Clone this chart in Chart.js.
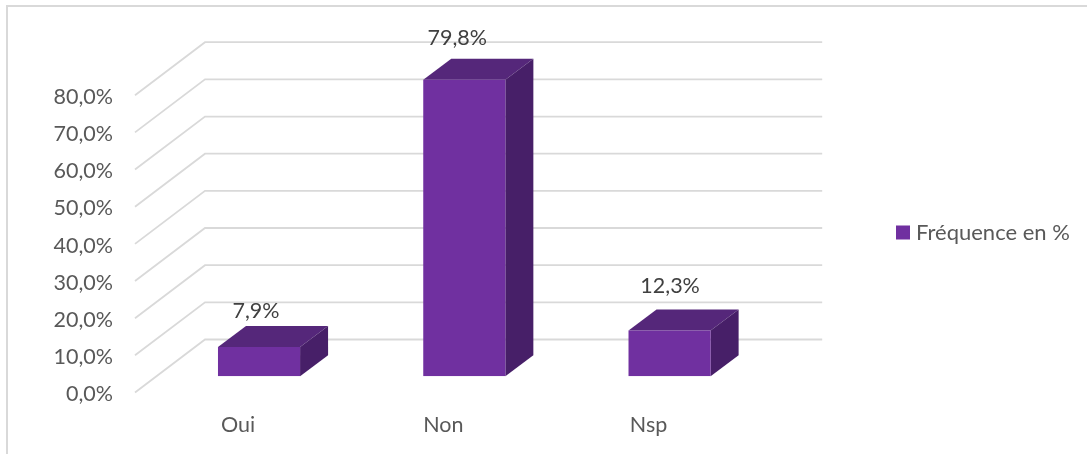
<!DOCTYPE html>
<html lang="fr">
<head>
<meta charset="utf-8">
<title>Fréquence en %</title>
<style>
  html, body { margin: 0; padding: 0; background: #fff; overflow: hidden; }
  canvas { display: block; }
</style>
</head>
<body>
<canvas id="chart" width="1087" height="454"></canvas>
<script src="https://cdn.jsdelivr.net/npm/chart.js@4"></script>
<script>
const categories = ["Oui", "Non", "Nsp"];
const frequences = [7.9, 79.8, 12.3];
const seriesName = "Fréquence en %";
const yTicks = [0, 10, 20, 30, 40, 50, 60, 70, 80];

const fontFamily = "Lato, 'Open Sans', sans-serif";
const depthX = 28, depthY = -21;
// nudges of the three value labels, the original has them placed by hand
const labelShiftX = [-3, -7, 0.5];
const labelShiftY = [36, 41.5, 44.8];

const pct = v => v.toFixed(1).replace(".", ",") + "%";

const box3d = {
  id: "box3d",
  afterLayout(chart) {
    // legend sits right of the plot, away from the area chart.js gives it
    const lg = chart.legend;
    lg.left = 891;
    lg.right = lg.left + lg.width;
    lg.top = 211.5;
    lg.bottom = lg.top + lg.height;
  },
  beforeDraw(chart) {
    const c = chart.ctx;
    c.save();
    c.fillStyle = "#d9d9d9";
    c.fillRect(6, 5, 1081, 2);
    c.fillRect(6, 5, 2, 449);
    c.restore();
  },
  beforeDatasetsDraw(chart) {
    const c = chart.ctx, y = chart.scales.y, area = chart.chartArea;
    const wallLeft = area.left + 48.6, wallRight = area.right + 50;
    c.save();
    c.strokeStyle = "#d9d9d9";
    c.lineWidth = 1.8;
    yTicks.forEach(v => {
      const py = y.getPixelForValue(v) - 36.8;
      c.beginPath();
      c.moveTo(wallLeft - 70, py + 53);
      c.lineTo(wallLeft, py);
      c.lineTo(wallRight, py);
      c.stroke();
    });
    chart.getDatasetMeta(0).data.forEach(bar => {
      const l = bar.x - bar.width / 2, r = bar.x + bar.width / 2;
      c.fillStyle = "#55277a";
      c.beginPath();
      c.moveTo(l, bar.y);
      c.lineTo(l + depthX, bar.y + depthY);
      c.lineTo(r + depthX, bar.y + depthY);
      c.lineTo(r, bar.y);
      c.closePath();
      c.fill();
      c.fillStyle = "#471f68";
      c.beginPath();
      c.moveTo(r, bar.y);
      c.lineTo(r + depthX, bar.y + depthY);
      c.lineTo(r + depthX, bar.base + depthY);
      c.lineTo(r, bar.base);
      c.closePath();
      c.fill();
    });
    c.restore();
  },
  afterDatasetsDraw(chart) {
    const c = chart.ctx;
    c.save();
    c.font = "21.5px " + fontFamily;
    c.fillStyle = "#404040";
    c.textAlign = "center";
    c.textBaseline = "middle";
    chart.getDatasetMeta(0).data.forEach((bar, i) => {
      c.fillText(pct(frequences[i]), bar.x + labelShiftX[i], bar.y - labelShiftY[i]);
    });
    c.restore();
  }
};

new Chart(document.getElementById("chart"), {
  type: "bar",
  data: {
    labels: categories,
    datasets: [{
      label: seriesName,
      data: frequences,
      backgroundColor: "#7030a0",
      borderWidth: 0,
      categoryPercentage: 1,
      barPercentage: 0.4
    }]
  },
  plugins: [box3d],
  options: {
    responsive: false,
    animation: false,
    layout: { padding: { top: 79, right: 314.8, left: 0, bottom: 0 } },
    plugins: {
      tooltip: { enabled: false },
      legend: {
        position: "chartArea",
        align: "start",
        labels: {
          usePointStyle: true,
          pointStyle: "rect",
          boxWidth: 4,
          boxHeight: 14,
          color: "#595959",
          font: { family: fontFamily, size: 22 }
        }
      }
    },
    scales: {
      x: {
        grid: { display: false },
        border: { display: false },
        ticks: { color: "#595959", font: { family: fontFamily, size: 21.5 }, labelOffset: -21, padding: 28, maxRotation: 0 },
        afterFit(s) { s.height = 77.7; }
      },
      y: {
        min: 0,
        max: 80,
        grid: { display: false },
        border: { display: false },
        afterFit(s) { s.width = 156.4; },
        ticks: { stepSize: 10, color: "#595959", font: { family: fontFamily, size: 21.5 }, labelOffset: 18, padding: 35.4, callback: v => pct(v) }
      }
    }
  }
});
</script>
</body>
</html>
